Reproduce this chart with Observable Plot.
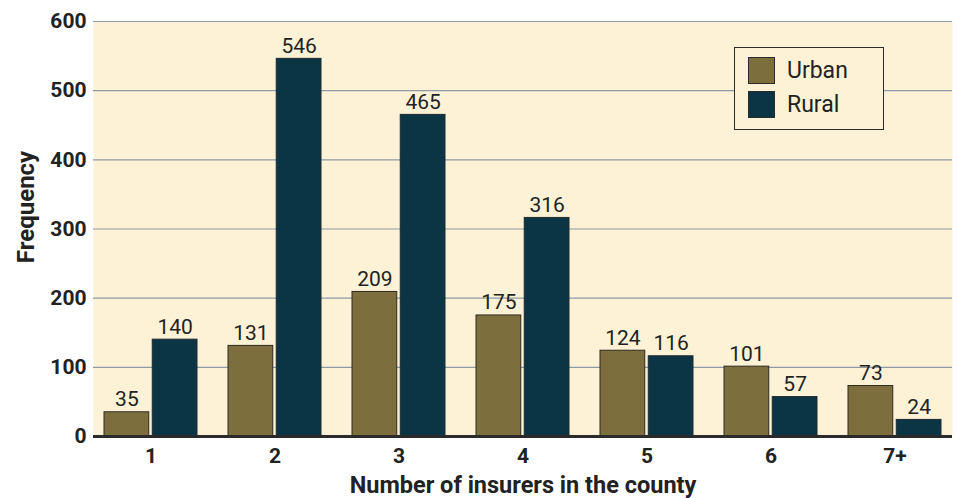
<!DOCTYPE html>
<html>
<head>
<meta charset="utf-8">
<script src="https://cdn.jsdelivr.net/npm/d3@7"></script>
<script src="https://cdn.jsdelivr.net/npm/@observablehq/plot@0.6"></script>
<style>
  html, body { margin: 0; padding: 0; background: #ffffff; }
  #wrap { position: relative; width: 958px; height: 498px; font-family: Roboto, sans-serif; }
  #wrap svg { display: block; }
  g[aria-label^="y-axis"] text, g[aria-label^="x-axis"] text { font-weight: 700; }
  g[aria-label="x-axis label"] text { font-size: 23.5px; }
  #legend { position: absolute; left: 734px; top: 47px; width: 148px; height: 81px;
            border: 1.5px solid #2a2a2a; background: #fdf2d6; }
  .item { position: absolute; left: 13px; display: flex; align-items: center; }
  .sw { width: 27px; height: 27px; border: 1px solid #2a2a2a; box-sizing: border-box; }
  .lab { margin-left: 12px; font-size: 23px; color: #222; }
</style>
</head>
<body>
<div id="wrap"></div>
<script>
const categories = ["1", "2", "3", "4", "5", "6", "7+"];
const urban = [35, 131, 209, 175, 124, 101, 73];
const rural = [140, 546, 465, 316, 116, 57, 24];
const seriesNames = ["Urban", "Rural"];
const yTicks = [0, 100, 200, 300, 400, 500, 600];
const gridTicks = [100, 200, 300, 400, 500, 600];
const yTitle = ["Frequency"];

const colors = { Urban: "#7d6e3e", Rural: "#0b3545" };

const W = 958, H = 498, ML = 93, MR = 6, MT = 21, MB = 62;
const pInner = 0.248, pOuter = 0.064;
const step = (W - ML - MR) / (categories.length - pInner + 2 * pOuter);
const bw = step * (1 - pInner);
const gap = 1.3;

const urbanData = categories.map((c, i) => ({ cat: c, value: urban[i] }));
const ruralData = categories.map((c, i) => ({ cat: c, value: rural[i] }));

const chart = Plot.plot({
  width: W, height: H,
  marginLeft: ML, marginRight: MR, marginTop: MT, marginBottom: MB,
  style: { fontFamily: "Roboto, sans-serif", fontSize: "21px", color: "#222", background: "#ffffff" },
  x: { domain: categories, paddingInner: pInner, paddingOuter: pOuter, tickSize: 0, tickPadding: 12,
       label: "Number of insurers in the county", labelAnchor: "center", labelOffset: 56, labelArrow: "none" },
  y: { domain: [0, 600], ticks: yTicks, tickSize: 0, tickPadding: 7, label: null },
  marks: [
    Plot.frame({ fill: "#fdf2d6", stroke: null }),
    Plot.ruleY(gridTicks, { stroke: "#8e9aa4", strokeWidth: 1.2 }),
    Plot.barY(urbanData, { x: "cat", y: "value", fill: colors.Urban, stroke: "#2e2a22", strokeWidth: 1,
      insetRight: bw / 2 + gap }),
    Plot.barY(ruralData, { x: "cat", y: "value", fill: colors.Rural, stroke: "#1d2a30", strokeWidth: 1,
      insetLeft: bw / 2 + gap }),
    Plot.text(urbanData, { x: "cat", y: "value", text: d => String(d.value), dx: -bw / 4 - gap / 2, dy: -6,
      lineAnchor: "bottom", fill: "#222", fontSize: 21 }),
    Plot.text(ruralData, { x: "cat", y: "value", text: d => String(d.value), dx: bw / 4 + gap / 2, dy: -6,
      lineAnchor: "bottom", fill: "#222", fontSize: 21 }),
    Plot.ruleY([0], { stroke: "#2a2a2a", strokeWidth: 3 }),
    Plot.text(yTitle, { text: d => d, frameAnchor: "left", rotate: -90, textAnchor: "middle",
      lineAnchor: "bottom", dx: -60, dy: -22, fontSize: 24, fontWeight: "bold", fill: "#222" })
  ]
});

const wrap = document.getElementById("wrap");
wrap.appendChild(chart);

const legend = document.createElement("div");
legend.id = "legend";
seriesNames.forEach((name, i) => {
  const item = document.createElement("div");
  item.className = "item";
  item.style.top = (9 + i * 33.5) + "px";
  const sw = document.createElement("div");
  sw.className = "sw";
  sw.style.background = colors[name];
  const lab = document.createElement("span");
  lab.className = "lab";
  lab.textContent = name;
  item.appendChild(sw);
  item.appendChild(lab);
  legend.appendChild(item);
});
wrap.appendChild(legend);
</script>
</body>
</html>
